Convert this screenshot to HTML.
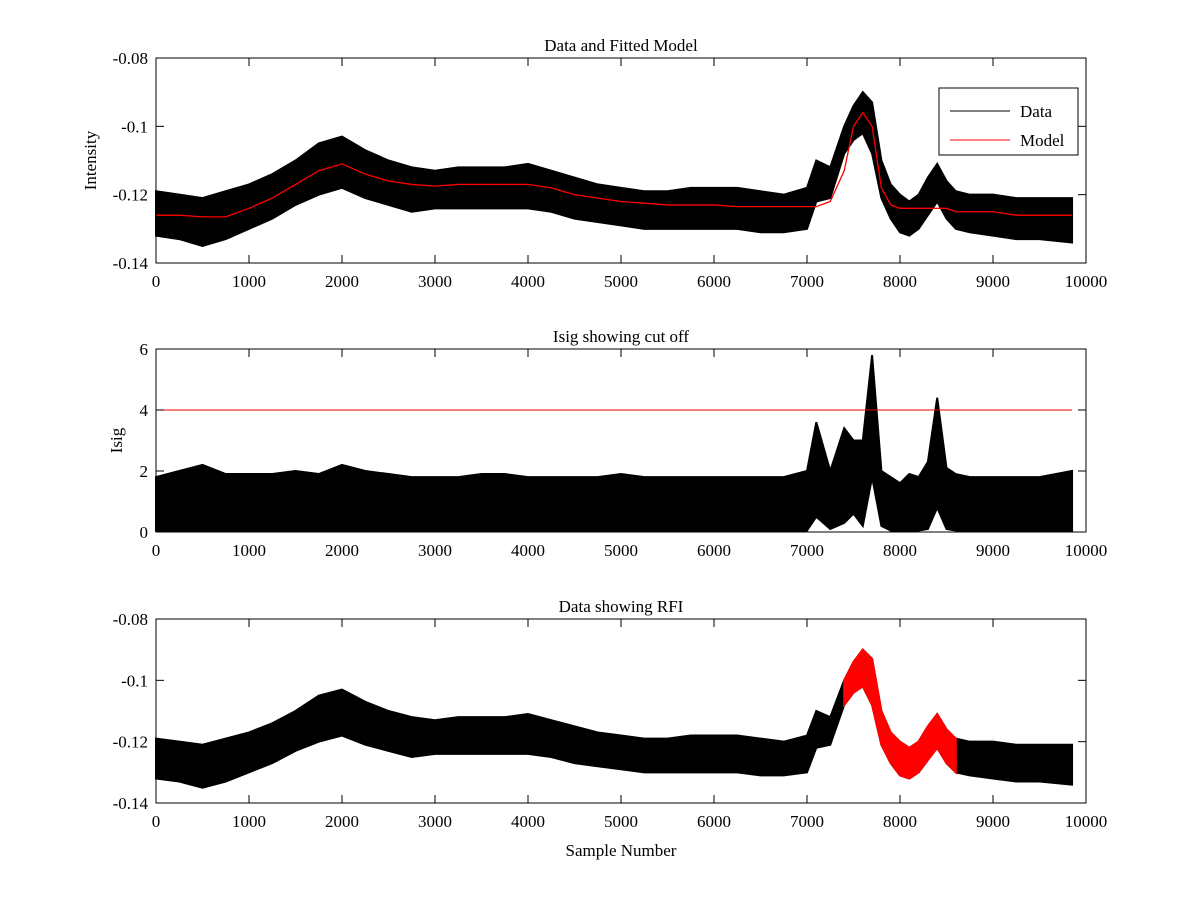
<!DOCTYPE html>
<html><head><meta charset="utf-8"><style>
body{margin:0;background:#fff;}
svg text{font-family:"Liberation Serif",serif;font-size:17px;fill:#000;}
</style></head><body>
<svg id="c" width="1200" height="900"></svg>
<script>
const sx=[0,250,500,750,1000,1250,1500,1750,2000,2250,2500,2750,3000,3250,3500,3750,4000,4250,4500,4750,5000,5250,5500,5750,6000,6250,6500,6750,7000,7100,7250,7400,7500,7600,7700,7800,7900,8000,8100,8200,8300,8400,8500,8600,8750,9000,9250,9500,9850];
const model=[-0.126,-0.126,-0.1265,-0.1265,-0.124,-0.121,-0.117,-0.113,-0.111,-0.114,-0.116,-0.117,-0.1175,-0.117,-0.117,-0.117,-0.117,-0.118,-0.120,-0.121,-0.122,-0.1225,-0.123,-0.123,-0.123,-0.1235,-0.1235,-0.1235,-0.1235,-0.1235,-0.122,-0.113,-0.100,-0.096,-0.100,-0.118,-0.123,-0.124,-0.124,-0.124,-0.124,-0.124,-0.124,-0.125,-0.125,-0.125,-0.126,-0.126,-0.126];
const dataHi=[-0.119,-0.120,-0.121,-0.119,-0.117,-0.114,-0.110,-0.105,-0.103,-0.107,-0.110,-0.112,-0.113,-0.112,-0.112,-0.112,-0.111,-0.113,-0.115,-0.117,-0.118,-0.119,-0.119,-0.118,-0.118,-0.118,-0.119,-0.120,-0.118,-0.110,-0.112,-0.100,-0.094,-0.090,-0.093,-0.110,-0.117,-0.120,-0.122,-0.120,-0.115,-0.111,-0.116,-0.119,-0.120,-0.120,-0.121,-0.121,-0.121];
const dataLo=[-0.132,-0.133,-0.135,-0.133,-0.130,-0.127,-0.123,-0.120,-0.118,-0.121,-0.123,-0.125,-0.124,-0.124,-0.124,-0.124,-0.124,-0.125,-0.127,-0.128,-0.129,-0.130,-0.130,-0.130,-0.130,-0.130,-0.131,-0.131,-0.130,-0.122,-0.121,-0.108,-0.104,-0.102,-0.108,-0.121,-0.127,-0.131,-0.132,-0.130,-0.126,-0.122,-0.127,-0.130,-0.131,-0.132,-0.133,-0.133,-0.134];
const isigHi=[1.8,2.0,2.2,1.9,1.9,1.9,2.0,1.9,2.2,2.0,1.9,1.8,1.8,1.8,1.9,1.9,1.8,1.8,1.8,1.8,1.9,1.8,1.8,1.8,1.8,1.8,1.8,1.8,2.0,3.6,2.0,3.4,3.0,3.0,5.8,2.0,1.8,1.6,1.9,1.8,2.3,4.4,2.1,1.9,1.8,1.8,1.8,1.8,2.0];
const isigLo=[0.05,0.05,0.05,0.05,0.05,0.05,0.05,0.05,0.05,0.05,0.05,0.05,0.05,0.05,0.05,0.05,0.05,0.05,0.05,0.05,0.05,0.05,0.05,0.05,0.05,0.05,0.05,0.05,0.05,0.5,0.1,0.3,0.6,0.2,1.8,0.2,0.05,0.05,0.05,0.05,0.1,0.8,0.1,0.05,0.05,0.05,0.05,0.05,0.05];
const cutoff=4;
const rfiStart=7400, rfiEnd=8700;
const xTicks=[0,1000,2000,3000,4000,5000,6000,7000,8000,9000,10000];
const intTicks=[-0.14,-0.12,-0.1,-0.08];
const isigTicks=[0,2,4,6];

const svg=document.getElementById('c');
const NS='http://www.w3.org/2000/svg';
function mk(tag,attrs,parent){const e=document.createElementNS(NS,tag);for(const k in attrs)e.setAttribute(k,attrs[k]);(parent||svg).appendChild(e);return e;}
const X0=156,X1=1086;
const xs=v=>X0+(v/10000)*(X1-X0);
function axes(top,bot,ymin,ymax,yt,name,title,ylabel,ylx){
  const ys=v=>bot-(v-ymin)/(ymax-ymin)*(bot-top);
  const g=mk('g',{});
  
  
  return {g,ys,finish(){
    mk('rect',{x:X0,y:top,width:X1-X0,height:bot-top,fill:'none',stroke:'#000','stroke-width':1},g);
    xTicks.forEach(t=>{const x=xs(t);
      mk('line',{x1:x,y1:bot,x2:x,y2:bot-8,stroke:'#000'},g);
      mk('line',{x1:x,y1:top,x2:x,y2:top+8,stroke:'#000'},g);
      const tx=mk('text',{x:x,y:bot+24,'text-anchor':'middle'},g);tx.textContent=t;
      
      });
    yt.forEach(t=>{const y=ys(t);
      mk('line',{x1:X0,y1:y,x2:X0+8,y2:y,stroke:'#000'},g);
      mk('line',{x1:X1,y1:y,x2:X1-8,y2:y,stroke:'#000'},g);
      const tx=mk('text',{x:X0-8,y:y+6,'text-anchor':'end'},g);tx.textContent=t;
      
      });
    const tt=mk('text',{x:(X0+X1)/2,y:top-7,'text-anchor':'middle'},g);tt.textContent=title;
    
    
    const yl=mk('text',{x:ylx,y:(top+bot)/2,'text-anchor':'middle',transform:`rotate(-90 ${ylx} ${(top+bot)/2})`},g);yl.textContent=ylabel;
    
    
  }};
}
function band(g,ys,lo,hi,color,a,b,name){
  const idx=sx.map((v,i)=>i).filter(i=>sx[i]>=a&&sx[i]<=b);
  const pts=idx.map(i=>xs(sx[i])+','+ys(hi[i])).concat(idx.slice().reverse().map(i=>xs(sx[i])+','+ys(lo[i])));
  const p=mk('polygon',{points:pts.join(' '),fill:color,stroke:color,'stroke-width':2},g);
  
  
}
// Plot 1
const p1=axes(58,263,-0.14,-0.08,intTicks,'data-model-plot','Data and Fitted Model','Intensity',96);
band(p1.g,p1.ys,dataLo,dataHi,'#000',0,10000,'data-series');
const ml=mk('polyline',{points:sx.map((v,i)=>xs(v)+','+p1.ys(model[i])).join(' '),fill:'none',stroke:'#f00','stroke-width':1.3},p1.g);


p1.finish();
const lg=mk('g',{});


mk('rect',{x:939,y:88,width:139,height:67,fill:'#fff',stroke:'#000'},lg);
mk('line',{x1:950,y1:111,x2:1010,y2:111,stroke:'#000'},lg);
mk('line',{x1:950,y1:140,x2:1010,y2:140,stroke:'#f00'},lg);
let t=mk('text',{x:1020,y:117},lg);t.textContent='Data';


t=mk('text',{x:1020,y:146},lg);t.textContent='Model';


// Plot 2
const p2=axes(349,532,0,6,isigTicks,'isig-plot','Isig showing cut off','Isig',122);
band(p2.g,p2.ys,isigLo,isigHi,'#000',0,10000,'isig-series');
const cl=mk('line',{x1:xs(0),y1:p2.ys(cutoff),x2:xs(9850),y2:p2.ys(cutoff),stroke:'#e00','stroke-width':1},p2.g);


p2.finish();
// Plot 3
const p3=axes(619,803,-0.14,-0.08,intTicks,'rfi-plot','Data showing RFI','',96);
band(p3.g,p3.ys,dataLo,dataHi,'#000',0,10000,'data-series');
band(p3.g,p3.ys,dataLo,dataHi,'#f00',rfiStart,rfiEnd,'rfi-series');
p3.finish();
t=mk('text',{x:621,y:856,'text-anchor':'middle'});t.textContent='Sample Number';


</script>
</body></html>
